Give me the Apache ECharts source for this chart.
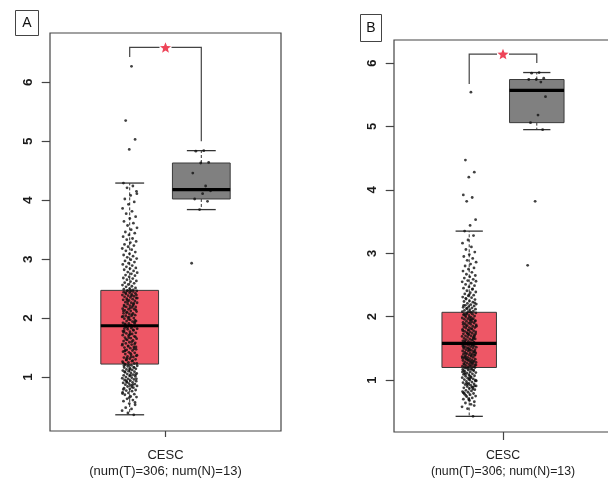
<!DOCTYPE html>
<html><head><meta charset="utf-8">
<script src="https://cdn.jsdelivr.net/npm/echarts@6/dist/echarts.min.js"></script>
<style>html,body{margin:0;padding:0;background:#fff}#c{width:608px;height:478px}</style>
</head><body><div id="c"></div>
<script>
// ---------- data ----------
const categories = ['CESC'];
const yTicks = [1, 2, 3, 4, 5, 6];

// Panel A (tumor: 306, normal: 13)
const tumorA = [
6.27, 5.35, 5.03, 4.86,
4.29, 4.24, 4.21, 4.15, 4.08, 4.02, 3.97, 3.93, 3.86, 3.81,
3.77, 3.72, 3.69, 3.64, 3.61, 3.57, 3.53, 3.50, 3.46, 3.44,
3.41, 3.38, 3.35, 3.33, 3.30, 3.28, 3.25, 3.23, 3.21, 3.18,
3.16, 3.14, 3.12, 3.09, 3.07, 3.05, 3.03, 3.01, 2.99, 2.97,
2.95, 2.93, 2.91, 2.89, 2.87, 2.85, 2.84, 2.82, 2.80, 2.78,
2.77, 2.75, 2.73, 2.72, 2.70, 2.68, 2.67, 2.65, 2.63, 2.62,
2.60, 2.59, 2.57, 2.56, 2.54, 2.53, 2.51, 2.50, 2.49, 2.48,
2.47, 4.11,
1.88, 1.89, 1.91, 1.91, 1.92, 1.94, 1.95, 1.95, 1.97, 1.99,
2.00, 2.01, 2.02, 2.04, 2.04, 2.05, 2.07, 2.08, 2.08, 2.10,
2.11, 2.12, 2.13, 2.15, 2.15, 2.16, 2.18, 2.19, 2.19, 2.21,
2.22, 2.23, 2.24, 2.26, 2.26, 2.27, 2.29, 2.30, 2.31, 2.32,
2.33, 2.34, 2.35, 2.36, 2.37, 2.38, 2.39, 2.40, 2.41, 2.42,
2.43, 2.44, 2.45, 2.46, 2.46, 2.47, 1.90, 1.93, 1.98, 2.03,
2.06, 2.09, 2.14, 2.17, 2.20, 2.25, 2.28, 2.34, 2.38, 2.43,
1.96, 2.02, 2.12, 2.21, 2.31, 2.39, 2.45,
1.22, 1.23, 1.25, 1.26, 1.27, 1.29, 1.30, 1.31, 1.33, 1.34,
1.35, 1.37, 1.38, 1.39, 1.41, 1.42, 1.43, 1.45, 1.46, 1.47,
1.49, 1.50, 1.51, 1.53, 1.54, 1.55, 1.57, 1.58, 1.59, 1.61,
1.62, 1.63, 1.65, 1.66, 1.67, 1.69, 1.70, 1.71, 1.73, 1.74,
1.75, 1.77, 1.78, 1.79, 1.81, 1.82, 1.83, 1.85, 1.86, 1.87,
1.24, 1.28, 1.32, 1.36, 1.40, 1.44, 1.48, 1.52, 1.56, 1.60,
1.64, 1.68, 1.72, 1.76, 1.80, 1.84, 1.23, 1.34, 1.45, 1.56,
1.67, 1.78, 1.86, 1.29, 1.51, 1.73, 1.82,
0.36, 0.39, 0.43, 0.46, 0.48, 0.53, 0.55, 0.59, 0.61, 0.63,
0.66, 0.67, 0.70, 0.71, 0.73, 0.74, 0.76, 0.77, 0.78, 0.80,
0.81, 0.82, 0.84, 0.85, 0.86, 0.87, 0.88, 0.89, 0.90, 0.91,
0.92, 0.93, 0.94, 0.95, 0.96, 0.97, 0.98, 0.99, 1.00, 1.01,
1.02, 1.03, 1.04, 1.05, 1.06, 1.07, 1.08, 1.09, 1.10, 1.11,
1.12, 1.13, 1.14, 1.15, 1.16, 1.17, 1.18, 1.19, 1.20, 1.21,
0.57, 0.65, 0.79, 0.87, 0.91, 0.97, 1.03, 1.09, 1.16, 1.21,
0.72, 0.83, 0.94, 1.04, 1.13, 1.19
];
const normalA = [4.84, 4.83, 4.64, 4.63, 4.46, 4.24, 4.18, 4.16, 4.11, 4.02, 3.98, 3.84, 2.93];
// box stats [lower whisker, Q1, median, Q3, upper whisker]
const boxTumorA = [0.36, 1.22, 1.87, 2.47, 4.29];
const boxNormalA = [3.84, 4.02, 4.18, 4.63, 4.84];
// significance bracket [left foot, bar, right foot]
const sigA = [6.43, 6.59, 5.00];

// Panel B
const tumorB = [
5.54, 4.47, 4.28, 4.20, 3.92, 3.88, 3.82, 3.53, 3.44,
3.35, 3.28, 3.21, 3.16, 3.10, 3.06, 3.02, 2.98, 2.95, 2.92,
2.89, 2.86, 2.83, 2.80, 2.77, 2.75, 2.72, 2.70, 2.67, 2.65,
2.63, 2.61, 2.59, 2.57, 2.55, 2.53, 2.51, 2.49, 2.47, 2.45,
2.43, 2.41, 2.39, 2.38, 2.36, 2.34, 2.33, 2.31, 2.30, 2.28,
2.27, 2.25, 2.24, 2.23, 2.21, 2.20, 2.19, 2.18, 2.17, 2.16,
2.15, 2.14, 2.13, 2.12, 2.11, 2.10, 2.09, 2.08, 2.08, 2.07,
2.29, 2.22, 2.35, 2.18, 2.44, 2.13, 2.56,
1.59, 1.60, 1.60, 1.61, 1.62, 1.63, 1.64, 1.65, 1.65, 1.66,
1.67, 1.68, 1.69, 1.70, 1.70, 1.71, 1.72, 1.73, 1.74, 1.75,
1.76, 1.76, 1.77, 1.78, 1.79, 1.80, 1.81, 1.82, 1.83, 1.83,
1.84, 1.85, 1.86, 1.87, 1.88, 1.89, 1.90, 1.90, 1.91, 1.92,
1.93, 1.94, 1.95, 1.96, 1.97, 1.97, 1.98, 1.99, 2.00, 2.01,
2.02, 2.03, 2.04, 2.05, 2.06, 2.07, 1.62, 1.67, 1.72, 1.78,
1.81, 1.86, 1.93, 1.99, 2.04, 1.64, 1.74, 1.85, 1.95, 2.02,
1.69, 1.79, 1.88, 1.96, 2.05, 1.73, 1.91,
1.20, 1.21, 1.21, 1.22, 1.23, 1.23, 1.24, 1.25, 1.26, 1.26,
1.27, 1.28, 1.28, 1.29, 1.30, 1.31, 1.31, 1.32, 1.33, 1.33,
1.34, 1.35, 1.36, 1.36, 1.37, 1.38, 1.38, 1.39, 1.40, 1.41,
1.41, 1.42, 1.43, 1.43, 1.44, 1.45, 1.46, 1.46, 1.47, 1.48,
1.48, 1.49, 1.50, 1.51, 1.51, 1.52, 1.53, 1.53, 1.54, 1.55,
1.56, 1.56, 1.57, 1.58, 1.22, 1.25, 1.29, 1.32, 1.35, 1.39,
1.42, 1.45, 1.49, 1.52, 1.55, 1.57, 1.24, 1.30, 1.37, 1.44,
1.50, 1.54, 1.27, 1.34, 1.40, 1.47, 1.57,
0.43, 0.55, 0.58, 0.62, 0.64, 0.66, 0.69, 0.70, 0.72, 0.74,
0.75, 0.77, 0.78, 0.79, 0.81, 0.82, 0.83, 0.84, 0.85, 0.87,
0.88, 0.89, 0.90, 0.91, 0.92, 0.93, 0.94, 0.95, 0.96, 0.97,
0.98, 0.99, 1.00, 1.01, 1.02, 1.03, 1.04, 1.05, 1.06, 1.07,
1.08, 1.09, 1.10, 1.11, 1.12, 1.13, 1.14, 1.15, 1.16, 1.17,
1.18, 1.19, 1.20, 0.68, 0.80, 0.86, 0.93, 0.99, 1.04, 1.09,
0.60, 0.71, 0.80, 0.89, 0.95, 1.00, 1.06, 1.11, 1.16, 1.19,
1.13, 1.17, 0.76, 0.91, 1.02, 1.15
];
const normalB = [5.85, 5.84, 5.76, 5.74, 5.74, 5.70, 5.57, 5.47, 5.18, 5.06, 4.95, 3.82, 2.81];
const boxTumorB = [0.43, 1.20, 1.58, 2.07, 3.35];
const boxNormalB = [4.95, 5.06, 5.57, 5.74, 5.85];
const sigB = [5.67, 6.14, 6.00];

// ---------- layout ----------
const POS_T = -0.31, POS_N = 0.31;
const RED = '#EE5766', GRAY = '#808080', STAR = '#EE4458';
const FONT = 'Liberation Sans';

function jitter(i, amp) { return (((i * 0.6180339887) % 1) - 0.5) * 2 * amp; }
function pts(vals, pos, amp) { return vals.map((v, i) => [pos + jitter(i + 1, amp), v]); }

function renderBox(params, api) {
  const x = api.value(0);
  const lo = api.value(1), q1 = api.value(2), md = api.value(3), q3 = api.value(4), hi = api.value(5);
  const fill = api.value(6) === 0 ? RED : GRAY;
  const unit = api.size([1, 0])[0];
  const hb = 0.25 * unit, hc = 0.125 * unit;
  const c = api.coord([x, md])[0];
  const y = v => api.coord([x, v])[1];
  return { type: 'group', children: [
    { type: 'line', shape: { x1: c, y1: y(q3), x2: c, y2: y(hi) }, style: { stroke: '#333', lineWidth: 1, lineDash: [3, 2] } },
    { type: 'line', shape: { x1: c, y1: y(q1), x2: c, y2: y(lo) }, style: { stroke: '#333', lineWidth: 1, lineDash: [3, 2] } },
    { type: 'line', shape: { x1: c - hc, y1: y(hi), x2: c + hc, y2: y(hi) }, style: { stroke: '#333', lineWidth: 1.3 } },
    { type: 'line', shape: { x1: c - hc, y1: y(lo), x2: c + hc, y2: y(lo) }, style: { stroke: '#333', lineWidth: 1.3 } },
    { type: 'rect', shape: { x: c - hb, y: y(q3), width: 2 * hb, height: y(q1) - y(q3) }, style: { fill: fill, stroke: '#3a3a3a', lineWidth: 1 } }
  ]};
}
function renderMedian(params, api) {
  const x = api.value(0), md = api.value(3);
  const unit = api.size([1, 0])[0];
  const hb = 0.25 * unit;
  const p = api.coord([x, md]);
  return { type: 'line', shape: { x1: p[0] - hb, y1: p[1], x2: p[0] + hb, y2: p[1] }, style: { stroke: '#000', lineWidth: 3.2 } };
}
function renderSig(params, api) {
  const xl = api.value(0), xr = api.value(1);
  const lf = api.coord([xl, api.value(2)]), lt = api.coord([xl, api.value(3)]);
  const rt = api.coord([xr, api.value(3)]), rf = api.coord([xr, api.value(4)]);
  const mid = (lt[0] + rt[0]) / 2, gap = 6;
  const star = [];
  for (let k = 0; k < 10; k++) {
    const a = -Math.PI / 2 + k * Math.PI / 5, r = k % 2 === 0 ? 5.8 : 2.5;
    star.push([mid + r * Math.cos(a), lt[1] + 0.5 + r * Math.sin(a)]);
  }
  const st = { stroke: '#444', lineWidth: 1.2, fill: null };
  return { type: 'group', children: [
    { type: 'polyline', shape: { points: [lf, lt, [mid - gap, lt[1]]] }, style: st },
    { type: 'polyline', shape: { points: [[mid + gap, rt[1]], rt, rf] }, style: st },
    { type: 'polygon', shape: { points: star }, style: { fill: STAR } }
  ]};
}

function xAxisFor(gi, fs, tickLen, lh, tumor, normal) {
  const label = categories[0] + '\n(num(T)=' + tumor.length + '; num(N)=' + normal.length + ')';
  return {
    type: 'value', gridIndex: gi, min: -1, max: 1,
    axisLine: { show: false, onZero: false }, splitLine: { show: false },
    axisTick: { show: true, customValues: [0], length: tickLen, lineStyle: { color: '#444', width: 1.2 } },
    axisLabel: { show: true, customValues: [0], formatter: () => label, fontSize: fs, lineHeight: lh,
      margin: 16, color: '#222', fontFamily: FONT }
  };
}
function yAxisFor(gi, min, max, fs) {
  return {
    type: 'value', gridIndex: gi, min: min, max: max,
    axisLine: { show: false, onZero: false }, splitLine: { show: false },
    axisTick: { show: true, customValues: yTicks, length: 8.3, lineStyle: { color: '#444', width: 1.2 } },
    axisLabel: { show: true, customValues: yTicks, rotate: 90, fontSize: fs, fontWeight: 'bold',
      color: '#1a1a1a', fontFamily: FONT, margin: 15 }
  };
}

function panelSeries(gi, tumor, normal, bT, bN, sig) {
  return [
    { type: 'custom', xAxisIndex: gi, yAxisIndex: gi, renderItem: renderBox, z: 2, silent: true, clip: false,
      data: [[POS_T].concat(bT, [0]), [POS_N].concat(bN, [1])] },
    { type: 'scatter', xAxisIndex: gi, yAxisIndex: gi, z: 3, silent: true, symbolSize: 2.8,
      itemStyle: { color: '#111' }, data: pts(tumor, POS_T, 0.066) },
    { type: 'scatter', xAxisIndex: gi, yAxisIndex: gi, z: 3, silent: true, symbolSize: 2.8,
      itemStyle: { color: '#111' }, data: pts(normal, POS_N, 0.09) },
    { type: 'custom', xAxisIndex: gi, yAxisIndex: gi, renderItem: renderMedian, z: 4, silent: true, clip: false,
      data: [[POS_T].concat(bT), [POS_N].concat(bN)] },
    { type: 'custom', xAxisIndex: gi, yAxisIndex: gi, renderItem: renderSig, z: 4, silent: true, clip: false,
      data: [[POS_T, POS_N].concat(sig)] }
  ];
}

const chart = echarts.init(document.getElementById('c'), null, { renderer: 'canvas' });
chart.setOption({
  animation: false,
  backgroundColor: '#fff',
  grid: [
    { left: 50, top: 33, width: 231, height: 398, show: true, borderColor: '#444', borderWidth: 1.2, backgroundColor: 'transparent', containLabel: false, outerBoundsMode: 'none' },
    { left: 394, top: 40, width: 218, height: 392, show: true, borderColor: '#444', borderWidth: 1.2, backgroundColor: 'transparent', containLabel: false, outerBoundsMode: 'none' }
  ],
  xAxis: [ xAxisFor(0, 13, 6, 16, tumorA, normalA), xAxisFor(1, 12.3, 8, 15.7, tumorB, normalB) ],
  yAxis: [ yAxisFor(0, 0.085, 6.835, 13.5), yAxisFor(1, 0.183, 6.363, 13) ],
  graphic: [
    { type: 'rect', shape: { x: 15.5, y: 10.5, width: 23, height: 25 }, style: { fill: '#fff', stroke: '#444', lineWidth: 1 } },
    { type: 'text', x: 27, y: 23.5, style: { text: 'A', font: '14px "Liberation Sans"', fill: '#111', align: 'center', verticalAlign: 'middle' } },
    { type: 'rect', shape: { x: 360.5, y: 14.5, width: 21, height: 27 }, style: { fill: '#fff', stroke: '#444', lineWidth: 1 } },
    { type: 'text', x: 371, y: 28, style: { text: 'B', font: '14px "Liberation Sans"', fill: '#111', align: 'center', verticalAlign: 'middle' } }
  ],
  series: panelSeries(0, tumorA, normalA, boxTumorA, boxNormalA, sigA)
    .concat(panelSeries(1, tumorB, normalB, boxTumorB, boxNormalB, sigB))
});
</script>
</body></html>
